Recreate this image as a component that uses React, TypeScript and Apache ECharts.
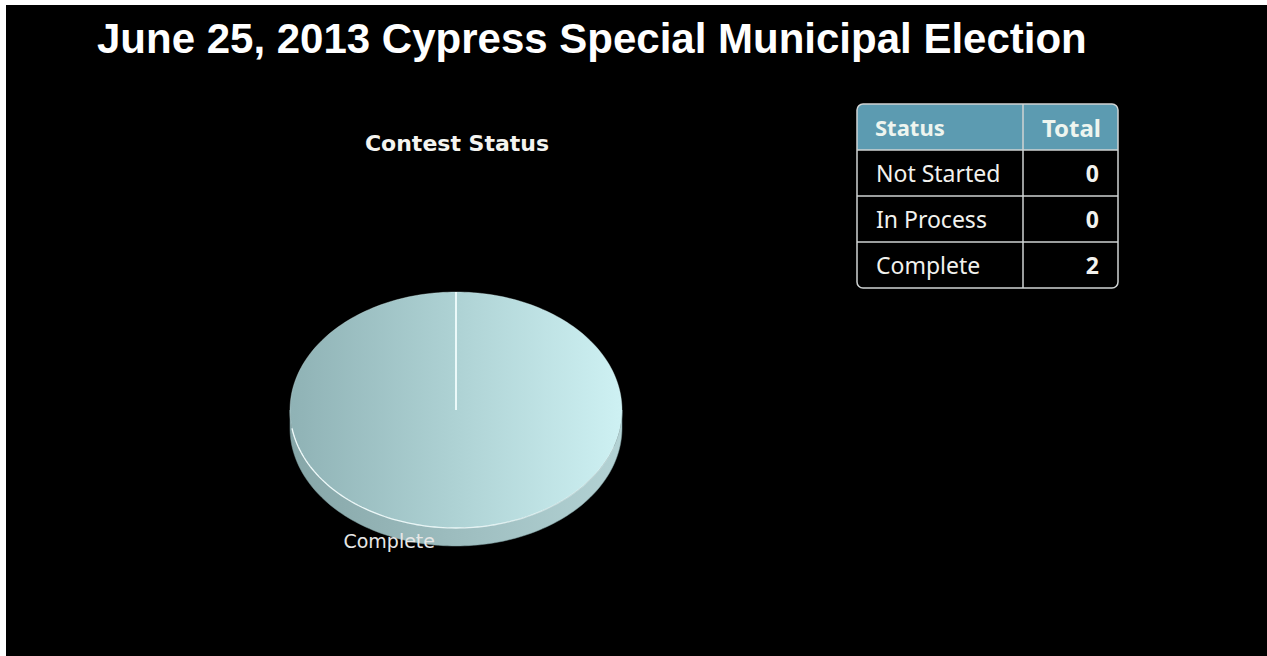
import React, { useEffect, useRef } from "react";
import * as echarts from "echarts";

const pageTitle = "June 25, 2013 Cypress Special Municipal Election";
const chartTitle = "Contest Status";
const statuses = ["Not Started", "In Process", "Complete"];
const totals = [0, 0, 2];
const tableHeaders = ["Status", "Total"];

export default function App() {
  const ref = useRef<HTMLDivElement>(null);

  useEffect(() => {
    document.body.style.margin = "0";
    const chart = echarts.init(ref.current!, null, { renderer: "svg" });

    const cx = 450, cy = 405, rx = 166, ry = 118, depth = 18;
    const sum = totals.reduce((a, b) => a + b, 0);
    const starts: number[] = [];
    let acc = 0;
    totals.forEach((v) => { starts.push(acc); acc += v; });

    const pt = (t: number, dy = 0) => [cx + rx * Math.sin(t), cy - ry * Math.cos(t) + dy];
    const arc = (a0: number, a1: number, dy = 0) => {
      const pts: number[][] = [];
      const n = Math.max(2, Math.ceil(((a1 - a0) / (Math.PI * 2)) * 240));
      for (let i = 0; i <= n; i++) pts.push(pt(a0 + ((a1 - a0) * i) / n, dy));
      return pts;
    };

    const topFill = new echarts.graphic.LinearGradient(0, 0, 1, 0, [
      { offset: 0, color: "#8fb2b5" },
      { offset: 0.5, color: "#aed2d4" },
      { offset: 1, color: "#cef1f3" },
    ]);
    const sideFill = new echarts.graphic.LinearGradient(0, 0, 1, 0, [
      { offset: 0, color: "#86a6a8" },
      { offset: 0.5, color: "#9dbdbf" },
      { offset: 1, color: "#b3d2d4" },
    ]);
    const rimStroke = new echarts.graphic.LinearGradient(0, 0, 1, 0, [
      { offset: 0, color: "rgba(245,255,255,0.95)" },
      { offset: 0.6, color: "rgba(245,255,255,0.8)" },
      { offset: 1, color: "rgba(245,255,255,0.25)" },
    ]);

    const renderItem = (params: any, api: any) => {
      const i = params.dataIndex;
      const v = api.value(1);
      if (!sum || !v) return { type: "group", children: [] };
      const a0 = (starts[i] / sum) * Math.PI * 2;
      const a1 = ((starts[i] + v) / sum) * Math.PI * 2;
      const children: any[] = [];
      const s0 = Math.max(a0, Math.PI / 2);
      const s1 = Math.min(a1, (Math.PI * 3) / 2);
      if (s1 > s0) {
        const upper = arc(s0, s1);
        const lower = arc(s0, s1, depth).reverse();
        children.push({
          type: "polygon",
          shape: { points: upper.concat(lower) },
          style: { fill: sideFill, stroke: "#7f9ea0", lineWidth: 0.5 },
        });
      }
      const topPts = [[cx, cy]].concat(arc(a0, a1)).concat([[cx, cy]]);
      children.push({
        type: "polygon",
        shape: { points: topPts },
        style: { fill: topFill, stroke: "rgba(210,235,236,0.35)", lineWidth: 1 },
      });
      if (s1 > s0) {
        children.push({
          type: "polyline",
          shape: { points: arc(Math.max(s0, Math.PI * 0.6), Math.min(s1, Math.PI * 1.45)) },
          style: { stroke: rimStroke, lineWidth: 1.3, fill: "none" },
        });
      }
      [a0, a1].forEach((a) => {
        const p = pt(a);
        children.push({
          type: "line",
          shape: { x1: cx, y1: cy, x2: p[0], y2: p[1] },
          style: { stroke: "rgba(240,252,252,0.9)", lineWidth: 1.6 },
        });
      });
      const mid = (a0 + a1) / 2;
      const lp = pt(mid, Math.cos(mid) < 0 ? depth : 0);
      children.push({
        type: "text",
        x: lp[0] - 21,
        y: lp[1] - 5,
        style: {
          text: statuses[i],
          fill: "#e6e6e6",
          fontSize: 19,
          fontFamily: "DejaVu Sans",
          align: "right",
          textAlign: "right",
          verticalAlign: "middle",
          textVerticalAlign: "middle",
        },
      });
      return { type: "group", children };
    };

    // table
    const tx0 = 851, tx1 = 1112, colSplit = 1017, ty0 = 99, rowH = 46;
    const nRows = statuses.length + 1;
    const ty1 = ty0 + rowH * nRows;
    const border = "#cfd3d3";
    const tableEls: any[] = [];
    tableEls.push({
      type: "rect",
      shape: { x: tx0, y: ty0, width: tx1 - tx0, height: rowH, r: [6, 6, 0, 0] },
      style: { fill: "#5c9bb1" },
    });
    for (let r = 1; r < nRows; r++) {
      tableEls.push({
        type: "line",
        shape: { x1: tx0, y1: ty0 + rowH * r, x2: tx1, y2: ty0 + rowH * r },
        style: { stroke: border, lineWidth: 1.5 },
      });
    }
    tableEls.push({
      type: "line",
      shape: { x1: colSplit, y1: ty0, x2: colSplit, y2: ty1 },
      style: { stroke: border, lineWidth: 1.5 },
    });
    tableEls.push({
      type: "rect",
      shape: { x: tx0, y: ty0, width: tx1 - tx0, height: ty1 - ty0, r: 6 },
      style: { fill: "none", stroke: border, lineWidth: 1.5 },
    });
    const cellText = (text: string, x: number, y: number, align: string, bold: boolean, color: string, size = 23) => ({
      type: "text",
      x,
      y,
      style: {
        text,
        fill: color,
        fontSize: size,
        fontWeight: bold ? "bold" : "normal",
        fontFamily: "Noto Sans",
        align,
        textAlign: align,
        verticalAlign: "middle",
        textVerticalAlign: "middle",
      },
    });
    tableEls.push(cellText(tableHeaders[0], tx0 + 18, ty0 + rowH / 2, "left", true, "#eef5ef", 22));
    tableEls.push(cellText(tableHeaders[1], tx1 - 17, ty0 + rowH / 2, "right", true, "#eef5ef", 24));
    statuses.forEach((s, i) => {
      const y = ty0 + rowH * (i + 1) + rowH / 2;
      tableEls.push(cellText(s, tx0 + 19, y, "left", false, "#f2f2ee"));
      tableEls.push(cellText(String(totals[i]), tx1 - 19, y, "right", true, "#f2f2ee", 23));
    });

    chart.setOption({
      animation: false,
      backgroundColor: "#000",
      title: {
        text: pageTitle,
        left: 86,
        top: 7,
        textStyle: { color: "#ffffff", fontSize: 42, fontWeight: "bold", fontFamily: "Liberation Sans, Arial" },
      },
      graphic: [
        {
          type: "text",
          x: 451,
          y: 138,
          style: {
            text: chartTitle,
            fill: "#f4f4f0",
            fontSize: 22,
            fontWeight: "bold",
            fontFamily: "DejaVu Sans",
            align: "center",
            textAlign: "center",
            verticalAlign: "middle",
            textVerticalAlign: "middle",
          },
        },
        ...tableEls,
      ],
      series: [
        {
          type: "custom",
          coordinateSystem: "none",
          renderItem,
          data: totals.map((v, i) => ({ name: statuses[i], value: [i, v] })),
        },
      ],
    });

    return () => chart.dispose();
  }, []);

  return (
    <div
      ref={ref}
      style={{ position: "absolute", left: 6, top: 5, width: 1261, height: 651, background: "#000" }}
    />
  );
}
